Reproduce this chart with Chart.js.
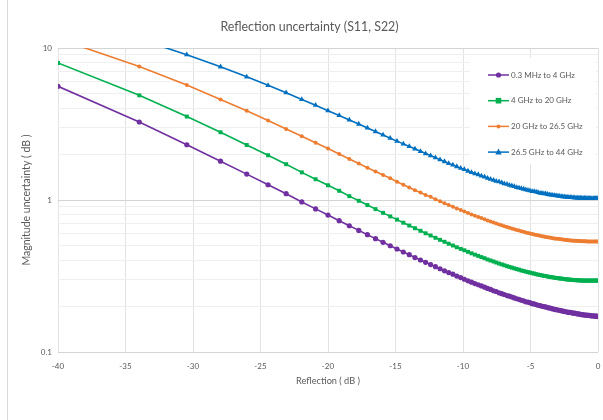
<!DOCTYPE html>
<html>
<head>
<meta charset="utf-8">
<script src="https://cdn.jsdelivr.net/npm/chart.js@4.4.0/dist/chart.umd.min.js"></script>
<style>
  html, body { margin: 0; padding: 0; background: #fff; }
</style>
</head>
<body>
<canvas id="myChart" width="603" height="420"></canvas>
<script>
// reflection in dB (x) for every plotted point
const reflectionDb = [-40, -33.98, -30.46, -27.96, -26.02, -24.44, -23.10, -21.94, -20.92, -20.00,
  -19.17, -18.42, -17.72, -17.08, -16.48, -15.92, -15.39, -14.89, -14.42, -13.98,
  -13.56, -13.15, -12.77, -12.40, -12.04, -11.70, -11.37, -11.06, -10.75, -10.46,
  -10.17, -9.90, -9.63, -9.37, -9.12, -8.87, -8.64, -8.40, -8.18, -7.96,
  -7.74, -7.54, -7.33, -7.13, -6.94, -6.74, -6.56, -6.38, -6.20, -6.02,
  -5.85, -5.68, -5.51, -5.35, -5.19, -5.04, -4.88, -4.73, -4.58, -4.44,
  -4.29, -4.15, -4.01, -3.88, -3.74, -3.61, -3.48, -3.35, -3.22, -3.10,
  -2.97, -2.85, -2.73, -2.62, -2.50, -2.38, -2.27, -2.16, -2.05, -1.94,
  -1.83, -1.72, -1.62, -1.51, -1.41, -1.31, -1.21, -1.11, -1.01, -0.92,
  -0.82, -0.72, -0.63, -0.54, -0.45, -0.35, -0.26, -0.18, -0.09, 0];

// magnitude uncertainty (dB) per band
const band1 = [5.60, 3.26, 2.31, 1.80, 1.48, 1.26, 1.10, 0.971, 0.874, 0.796,
  0.731, 0.677, 0.631, 0.591, 0.557, 0.527, 0.500, 0.476, 0.455, 0.437,
  0.418, 0.403, 0.389, 0.376, 0.364, 0.353, 0.342, 0.333, 0.325, 0.316,
  0.309, 0.301, 0.294, 0.288, 0.282, 0.277, 0.272, 0.267, 0.262, 0.258,
  0.253, 0.250, 0.245, 0.242, 0.239, 0.235, 0.233, 0.230, 0.227, 0.224,
  0.222, 0.219, 0.217, 0.214, 0.213, 0.211, 0.208, 0.207, 0.205, 0.203,
  0.202, 0.200, 0.199, 0.198, 0.196, 0.195, 0.194, 0.192, 0.191, 0.190,
  0.189, 0.188, 0.187, 0.186, 0.185, 0.184, 0.183, 0.182, 0.182, 0.181,
  0.180, 0.180, 0.179, 0.178, 0.178, 0.177, 0.176, 0.176, 0.175, 0.175,
  0.175, 0.174, 0.174, 0.173, 0.173, 0.173, 0.172, 0.172, 0.172, 0.171];

const band2 = [7.97, 4.88, 3.54, 2.79, 2.30, 1.97, 1.72, 1.52, 1.37, 1.25,
  1.15, 1.06, 0.988, 0.926, 0.871, 0.823, 0.780, 0.743, 0.709, 0.679,
  0.652, 0.627, 0.604, 0.584, 0.564, 0.547, 0.531, 0.516, 0.502, 0.489,
  0.477, 0.467, 0.456, 0.446, 0.437, 0.429, 0.421, 0.414, 0.406, 0.400,
  0.394, 0.388, 0.382, 0.377, 0.372, 0.367, 0.363, 0.359, 0.355, 0.351,
  0.348, 0.344, 0.341, 0.338, 0.335, 0.333, 0.330, 0.328, 0.325, 0.323,
  0.321, 0.319, 0.317, 0.316, 0.314, 0.312, 0.311, 0.310, 0.308, 0.307,
  0.306, 0.305, 0.304, 0.303, 0.302, 0.301, 0.300, 0.300, 0.299, 0.298,
  0.298, 0.297, 0.297, 0.296, 0.296, 0.296, 0.295, 0.295, 0.295, 0.295,
  0.295, 0.295, 0.295, 0.295, 0.295, 0.295, 0.295, 0.295, 0.295, 0.295];

const band3 = [11.52, 7.55, 5.70, 4.59, 3.86, 3.33, 2.93, 2.63, 2.38, 2.18,
  2.01, 1.86, 1.74, 1.63, 1.54, 1.46, 1.39, 1.32, 1.26, 1.21,
  1.16, 1.12, 1.08, 1.05, 1.01, 0.981, 0.953, 0.927, 0.903, 0.880,
  0.859, 0.840, 0.821, 0.804, 0.788, 0.773, 0.760, 0.746, 0.733, 0.722,
  0.711, 0.700, 0.691, 0.681, 0.673, 0.664, 0.657, 0.649, 0.642, 0.635,
  0.629, 0.623, 0.618, 0.612, 0.607, 0.602, 0.598, 0.593, 0.589, 0.586,
  0.582, 0.578, 0.575, 0.572, 0.569, 0.566, 0.564, 0.561, 0.559, 0.557,
  0.555, 0.553, 0.551, 0.549, 0.548, 0.546, 0.545, 0.544, 0.542, 0.541,
  0.540, 0.539, 0.539, 0.538, 0.537, 0.537, 0.536, 0.535, 0.535, 0.535,
  0.534, 0.534, 0.534, 0.534, 0.534, 0.534, 0.534, 0.534, 0.534, 0.534];

const band4 = [16.21, 11.45, 9.03, 7.52, 6.46, 5.68, 5.08, 4.59, 4.20, 3.87,
  3.60, 3.36, 3.16, 2.98, 2.82, 2.68, 2.55, 2.44, 2.34, 2.25,
  2.17, 2.09, 2.02, 1.96, 1.90, 1.84, 1.79, 1.74, 1.70, 1.66,
  1.62, 1.59, 1.55, 1.52, 1.49, 1.47, 1.44, 1.42, 1.39, 1.37,
  1.35, 1.33, 1.32, 1.30, 1.28, 1.27, 1.25, 1.24, 1.23, 1.21,
  1.20, 1.19, 1.18, 1.17, 1.16, 1.15, 1.14, 1.14, 1.13, 1.12,
  1.11, 1.11, 1.10, 1.10, 1.09, 1.085, 1.080, 1.075, 1.071, 1.067,
  1.063, 1.060, 1.056, 1.053, 1.050, 1.048, 1.045, 1.042, 1.041, 1.039,
  1.037, 1.035, 1.033, 1.032, 1.030, 1.030, 1.028, 1.028, 1.027, 1.026,
  1.026, 1.026, 1.025, 1.025, 1.025, 1.025, 1.025, 1.025, 1.025, 1.026];

const bandLabels = ['0.3 MHz to 4 GHz', '4 GHz to 20 GHz', '20 GHz to 26.5 GHz', '26.5 GHz to 44 GHz'];
const chartTitle = 'Reflection uncertainty (S11, S22)';
const yTickValues = [0.1, 0.2, 0.3, 0.4, 0.5, 0.6, 0.7, 0.8, 0.9, 1, 2, 3, 4, 5, 6, 7, 8, 9, 10];
const yTickLabels = { 0.1: '0.1', 1: '1', 10: '10' };

const toPoints = (ys) => ys.map((y, i) => ({ x: reflectionDb[i], y: y }));

const textGrey = '#595959';
const fontFam = 'Lato, "Open Sans", sans-serif';

function marker(ctx, style, r, x, y) {
  ctx.beginPath();
  if (style === 'rect') {
    ctx.rect(x - r, y - r, r * 2, r * 2);
  } else if (style === 'triangle') {
    ctx.moveTo(x, y - r * 1.1);
    ctx.lineTo(x + r, y + r * 0.75);
    ctx.lineTo(x - r, y + r * 0.75);
    ctx.closePath();
  } else {
    ctx.arc(x, y, r, 0, Math.PI * 2);
  }
  ctx.fill();
}

// legend inside the plot, top right, like the original
const plotLegend = {
  id: 'plotLegend',
  beforeDatasetsDraw(chart) {
    const { ctx, chartArea } = chart;
    const x0 = chartArea.right - 128, y0 = chartArea.top + 10;
    ctx.save();
    ctx.fillStyle = '#ffffff';
    ctx.fillRect(x0, y0, 126, 106);
    chart.data.datasets.forEach((ds, i) => {
      const y = y0 + 17 + i * 25.7;
      ctx.strokeStyle = ds.borderColor;
      ctx.lineWidth = 1.5;
      ctx.beginPath();
      ctx.moveTo(x0 + 18, y);
      ctx.lineTo(x0 + 39, y);
      ctx.stroke();
      ctx.fillStyle = ds.backgroundColor;
      marker(ctx, ds.pointStyle, ds.pointRadius, x0 + 28.5, y);
      ctx.fillStyle = textGrey;
      ctx.font = '8px ' + fontFam;
      ctx.textBaseline = 'middle';
      ctx.fillText(ds.label, x0 + 41, y);
    });
    ctx.restore();
  }
};

// frame line on the left and the title (centred like the original, not on the canvas)
const frameAndTitle = {
  id: 'frameAndTitle',
  beforeDraw(chart) {
    const ctx = chart.ctx;
    ctx.save();
    ctx.strokeStyle = '#d9d9d9';
    ctx.lineWidth = 1;
    ctx.beginPath();
    ctx.moveTo(7.5, 0);
    ctx.lineTo(7.5, chart.height);
    ctx.stroke();
    ctx.fillStyle = textGrey;
    ctx.font = '12.4px ' + fontFam;
    ctx.textAlign = 'center';
    ctx.textBaseline = 'middle';
    ctx.fillText(chartTitle, 309.5, 27);
    ctx.restore();
  }
};

const ctx = document.getElementById('myChart').getContext('2d');
const myChart = new Chart(ctx, {
  type: 'line',
  data: {
    datasets: [
      { label: bandLabels[0], data: toPoints(band1), borderColor: '#7030A0', backgroundColor: '#7030A0',
        pointStyle: 'circle', pointRadius: 2.6 },
      { label: bandLabels[1], data: toPoints(band2), borderColor: '#00B050', backgroundColor: '#00B050',
        pointStyle: 'rect', pointRadius: 2.8 },
      { label: bandLabels[2], data: toPoints(band3), borderColor: '#ED7D31', backgroundColor: '#ED7D31',
        pointStyle: 'circle', pointRadius: 2.0 },
      { label: bandLabels[3], data: toPoints(band4), borderColor: '#0070C0', backgroundColor: '#0070C0',
        pointStyle: 'triangle', pointRadius: 3.2 }
    ]
  },
  options: {
    responsive: false,
    animation: false,
    devicePixelRatio: 1,
    layout: { padding: { left: 0, right: 5, top: 48, bottom: 0 } },
    elements: {
      line: { borderWidth: 1.6, tension: 0 },
      point: { borderWidth: 0, hoverRadius: 3 }
    },
    plugins: {
      legend: { display: false },
      tooltip: { enabled: false },
      title: { display: false }
    },
    scales: {
      x: {
        type: 'linear',
        min: -40,
        max: 0,
        afterFit: (scale) => {
          scale.height = 68;
          scale.paddingLeft = 0;
          scale.paddingRight = 0;
        },
        ticks: { stepSize: 5, color: textGrey, font: { family: fontFam, size: 8 }, padding: 10 },
        grid: { color: '#e3e3e3', drawTicks: false },
        border: { display: false },
        title: {
          display: true,
          text: 'Reflection ( dB )',
          color: textGrey,
          font: { family: fontFam, size: 9.2 },
          padding: { top: 0, bottom: 33 }
        }
      },
      y: {
        type: 'logarithmic',
        min: 0.1,
        max: 10,
        afterFit: (scale) => { scale.width = 58; },
        afterBuildTicks: (scale) => { scale.ticks = yTickValues.map(v => ({ value: v })); },
        ticks: {
          color: textGrey,
          font: { family: fontFam, size: 8 },
          padding: 6,
          autoSkip: false,
          callback: (v) => yTickLabels[v] || ''
        },
        grid: {
          drawTicks: false,
          color: (c) => (yTickLabels[c.tick.value] ? '#d4d4d4' : '#efefef')
        },
        border: { display: false },
        title: {
          display: true,
          text: 'Magnitude uncertainty ( dB )',
          color: textGrey,
          font: { family: fontFam, size: 10.5 },
          padding: { top: 20, bottom: 0 }
        }
      }
    }
  },
  plugins: [frameAndTitle, plotLegend]
});
</script>
</body>
</html>
